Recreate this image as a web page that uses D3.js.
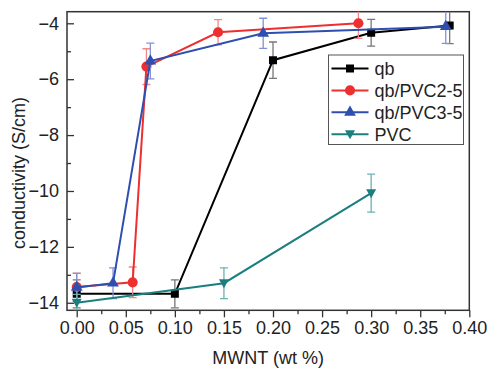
<!DOCTYPE html>
<html>
<head>
<meta charset="utf-8">
<script src="https://d3js.org/d3.v7.min.js"></script>
<style>
  body { margin: 0; background: #fff; }
  svg text { font-family: "Liberation Sans", Arial, sans-serif; fill: #222; }
</style>
</head>
<body>
<svg id="chart" width="490" height="369"></svg>
<script>
// data
const qbX = [0, 0.10, 0.20, 0.30, 0.38];
const qbY = [-13.68, -13.68, -5.32, -4.34, -4.08];
const qbErr = [0.5, 0.5, 0.65, 0.48, 0.65];

const pvc25X = [0, 0.057, 0.071, 0.144, 0.287];
const pvc25Y = [-13.44, -13.27, -5.55, -4.32, -4.0];
const pvc25Err = [0.5, 0.55, 0.64, 0.45, 0.54];

const pvc35X = [0, 0.037, 0.075, 0.19, 0.376];
const pvc35Y = [-13.45, -13.3, -5.35, -4.36, -4.12];
const pvc35Err = [0.5, 0.55, 0.64, 0.54, 0.6];

const pvcX = [0, 0.15, 0.30];
const pvcY = [-14.0, -13.3, -10.08];
const pvcErr = [0.3, 0.55, 0.68];

const xTicks = [0, 0.05, 0.10, 0.15, 0.20, 0.25, 0.30, 0.35, 0.40];
const yTicks = [-14, -12, -10, -8, -6, -4];

const seriesList = [
  {name: 'qb', xs: qbX, ys: qbY, err: qbErr, color: '#000000', errColor: '#777777', marker: 'square'},
  {name: 'qb/PVC2-5', xs: pvc25X, ys: pvc25Y, err: pvc25Err, color: '#ee2f2f', errColor: '#f08a8a', marker: 'circle'},
  {name: 'qb/PVC3-5', xs: pvc35X, ys: pvc35Y, err: pvc35Err, color: '#2f4fb0', errColor: '#8292d4', marker: 'triangle'},
  {name: 'PVC', xs: pvcX, ys: pvcY, err: pvcErr, color: '#1b7f7f', errColor: '#6fb0b0', marker: 'triangleDown'}
];

const svg = d3.select('#chart');
const plotL = 67, plotR = 469.3, plotT = 11.7, plotB = 310.3;
const fontSize = '18px';

const x = d3.scaleLinear().domain([-0.0099, 0.40]).range([plotL, plotR]);
const y = d3.scaleLinear().domain([-14.27, -3.585]).range([plotB, plotT]);

svg.append('clipPath').attr('id', 'plotClip')
  .append('rect').attr('x', plotL).attr('y', plotT).attr('width', plotR - plotL).attr('height', plotB - plotT);

function markerPath(type) {
  if (type === 'square') return d3.symbol(d3.symbolSquare, 64)();
  if (type === 'circle') return d3.symbol(d3.symbolCircle, 80)();
  if (type === 'triangle') return d3.symbol(d3.symbolTriangle, 60)();
  return 'M-5,-4L5,-4L0,5Z';
}

// axes
const xAxis = svg.append('g').attr('transform', `translate(0,${plotB})`)
  .call(d3.axisBottom(x).tickValues(xTicks).tickFormat(d3.format('.2f')).tickSize(7).tickPadding(4));
const xMinor = svg.append('g').attr('transform', `translate(0,${plotB})`)
  .call(d3.axisBottom(x).tickValues(d3.range(0.025, 0.4, 0.05)).tickFormat('').tickSize(4));

const yAxis = svg.append('g').attr('transform', `translate(${plotL},0)`)
  .call(d3.axisLeft(y).tickValues(yTicks).tickSize(-7).tickPadding(8));
const yMinor = svg.append('g').attr('transform', `translate(${plotL},0)`)
  .call(d3.axisLeft(y).tickValues(d3.range(-13, -3.9, 2)).tickFormat('').tickSize(-4));

[xAxis, xMinor, yAxis, yMinor].forEach(g => {
  g.select('.domain').remove();
  g.selectAll('line').attr('stroke', '#333').attr('stroke-width', 1.3);
  g.selectAll('text').style('font-size', fontSize).attr('fill', '#222');
});

// frame
svg.append('rect').attr('x', plotL).attr('y', plotT).attr('width', plotR - plotL).attr('height', plotB - plotT)
  .attr('fill', 'none').attr('stroke', '#333').attr('stroke-width', 1.5);

const plot = svg.append('g').attr('clip-path', 'url(#plotClip)');
const line = d3.line().x(d => x(d[0])).y(d => y(d[1]));

seriesList.forEach(s => {
  const pts = s.xs.map((v, i) => [v, s.ys[i], s.err[i]]);
  const g = plot.append('g');
  // error bars
  pts.forEach(p => {
    const cx = x(p[0]);
    g.append('line').attr('x1', cx).attr('x2', cx).attr('y1', y(p[1] - p[2])).attr('y2', y(p[1] + p[2]))
      .attr('stroke', s.errColor).attr('stroke-width', 1.3);
    [p[1] - p[2], p[1] + p[2]].forEach(v => {
      g.append('line').attr('x1', cx - 4).attr('x2', cx + 4).attr('y1', y(v)).attr('y2', y(v))
        .attr('stroke', s.errColor).attr('stroke-width', 1.3);
    });
  });
  g.append('path').datum(pts).attr('d', line).attr('fill', 'none')
    .attr('stroke', s.color).attr('stroke-width', 2);
  g.selectAll('path.mk').data(pts).enter().append('path').attr('class', 'mk')
    .attr('d', markerPath(s.marker))
    .attr('transform', d => `translate(${x(d[0])},${y(d[1])})`)
    .attr('fill', s.color);
});

// legend
const legend = svg.append('g').attr('transform', 'translate(328.5,55)');
legend.append('rect').attr('width', 135).attr('height', 89.5)
  .attr('fill', '#fff').attr('stroke', '#555').attr('stroke-width', 1);
seriesList.forEach((s, i) => {
  const ly = 13.5 + i * 21.9;
  legend.append('line').attr('x1', 3).attr('x2', 40).attr('y1', ly).attr('y2', ly)
    .attr('stroke', s.color).attr('stroke-width', 2);
  legend.append('path').attr('d', markerPath(s.marker))
    .attr('transform', `translate(21.5,${ly})`).attr('fill', s.color);
  legend.append('text').attr('x', 46).attr('y', ly + 6.5).text(s.name).style('font-size', fontSize);
});

// axis titles
svg.append('text').attr('x', (plotL + plotR) / 2).attr('y', 364).attr('text-anchor', 'middle')
  .style('font-size', fontSize).text('MWNT (wt %)');
svg.append('text').attr('transform', `translate(25,${(plotT + plotB) / 2 + 12}) rotate(-90)`)
  .attr('text-anchor', 'middle').style('font-size', fontSize).text('conductivity (S/cm)');
</script>
</body>
</html>
